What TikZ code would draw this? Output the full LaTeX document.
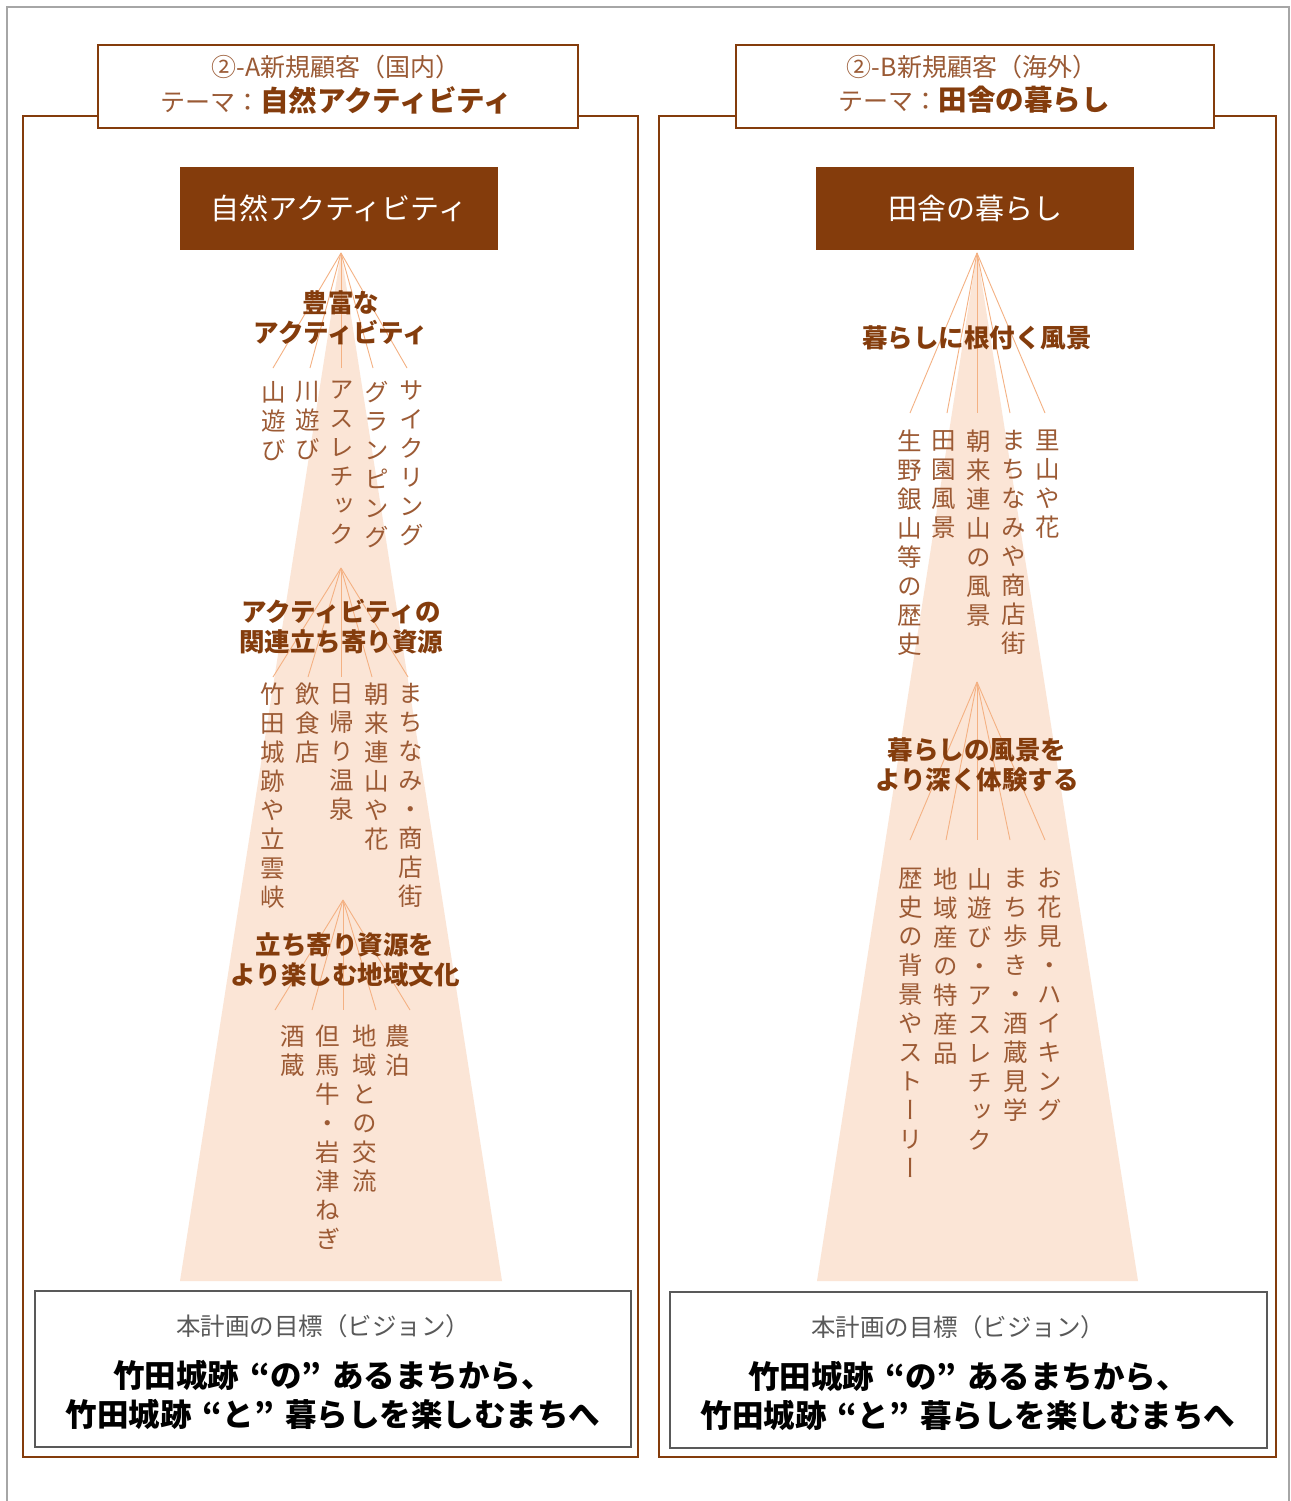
\documentclass[tikz,border=0pt]{standalone}
\usepackage{fontspec}
\setmainfont{Noto Sans CJK JP}
\newfontfamily\vjp[RawFeature=+vert]{Noto Sans CJK JP}
\definecolor{db}{HTML}{843C0C}
\definecolor{lb}{HTML}{9A5A35}
\definecolor{colc}{HTML}{9C5A34}
\definecolor{peach}{HTML}{FBE5D6}
\definecolor{fanc}{HTML}{F4B183}
\definecolor{outerg}{HTML}{A6A6A6}
\definecolor{boxg}{HTML}{595959}
\newcommand\qsp{\hspace{0.35em}}
\tikzset{
  frame/.style={draw=db, line width=2.4pt},
  hdrbox/.style={draw=db, fill=white, line width=2.4pt, minimum width=480pt, minimum height=83pt, inner sep=0pt},
  hdrtxt/.style={inner sep=0pt, text=lb, font=\fontsize{25}{30}\selectfont},
  themebox/.style={fill=db, minimum width=318pt, minimum height=83pt, inner sep=0pt, text=white, font=\fontsize{29}{34}\selectfont},
  fanline/.style={draw=fanc, line width=0.9pt},
  lbl/.style={inner sep=0pt, text=db, font=\bfseries\fontsize{25.5}{30}\selectfont, align=center},
  col/.style={inner sep=0pt, anchor=north, align=center, text=colc, font=\vjp\fontsize{24.5}{29}\selectfont},
  goalbox/.style={draw=boxg, line width=1.3pt, fill=white},
  goaltitle/.style={inner sep=0pt, text=boxg, font=\fontsize{24.5}{29}\selectfont},
  goaltxt/.style={inner sep=0pt, text=black, align=center, font=\bfseries\fontsize{31.5}{38.5}\selectfont},
}
\begin{document}
\begin{tikzpicture}[x=1pt,y=-1pt]
\useasboundingbox (0,0) rectangle (1290,1501);
\fill[white] (0,0) rectangle (1290,1501);
\draw[outerg, line width=1.3pt] (7,1501) -- (7,7) -- (1289,7) -- (1289,1501);

% ================= LEFT PANEL =================
\draw[frame] (23,116) rectangle (638,1457);
\node[hdrbox] (hA) at (338,86.5) {};
\node[hdrtxt] (hA1) at (336,67) {②-A新規顧客（国内）};
\node[hdrtxt] (hA2) at (336,100) {テーマ：{\color{db}\bfseries\fontsize{28.5}{30}\selectfont 自然アクティビティ}};
\node[themebox] (tA) at (339,208.5) {自然アクティビティ};

\fill[peach] (180,1281) -- (341,252) -- (502,1281) -- cycle;

% group A1
\coordinate (a1) at (341,253);
\foreach \i/\x in {1/273,2/310,3/341,4/373,5/407}{\coordinate (a1e\i) at (\x,368);}
\foreach \i in {1,...,5}{\draw[fanline] (a1) -- (a1e\i);}
\node[lbl] (la1) at (341,318) {豊富な\\アクティビティ};
\node[col] (ca11) at (274,381) {山\\遊\\び};
\node[col] (ca12) at (308,381) {川\\遊\\び};
\node[col] (ca13) at (342,381) {ア\\ス\\レ\\チ\\ッ\\ク};
\node[col] (ca14) at (377,381) {グ\\ラ\\ン\\ピ\\ン\\グ};
\node[col] (ca15) at (412,381) {サ\\イ\\ク\\リ\\ン\\グ};

% group A2
\coordinate (a2) at (341,568);
\foreach \i/\x in {1/273,2/308,3/341,4/372,5/408}{\coordinate (a2e\i) at (\x,677);}
\foreach \i in {1,...,5}{\draw[fanline] (a2) -- (a2e\i);}
\node[lbl] (la2) at (341,627) {アクティビティの\\関連立ち寄り資源};
\node[col] (ca21) at (273,683) {竹\\田\\城\\跡\\や\\立\\雲\\峡};
\node[col] (ca22) at (308,683) {飲\\食\\店};
\node[col] (ca23) at (342,683) {日\\帰\\り\\温\\泉};
\node[col] (ca24) at (377,683) {朝\\来\\連\\山\\や\\花};
\node[col] (ca25) at (411,683) {ま\\ち\\な\\み\\・\\商\\店\\街};

% group A3
\coordinate (a3) at (343,900);
\foreach \i/\x in {1/275,2/312,3/343,4/376,5/410}{\coordinate (a3e\i) at (\x,1010);}
\foreach \i in {1,...,5}{\draw[fanline] (a3) -- (a3e\i);}
\node[lbl] (la3) at (345,960) {立ち寄り資源を\\より楽しむ地域文化};
\node[col] (ca31) at (293,1025) {酒\\蔵};
\node[col] (ca32) at (328,1025) {但\\馬\\牛\\・\\岩\\津\\ね\\ぎ};
\node[col] (ca33) at (365,1025) {地\\域\\と\\の\\交\\流};
\node[col] (ca34) at (398,1025) {農\\泊};

% goal box
\draw[goalbox] (35,1291) rectangle (631,1447);
\node[goaltitle] (gA1) at (323,1326) {本計画の目標（ビジョン）};
\node[goaltxt] (gA2) at (333,1395) {竹田城跡\qsp“の”\qsp あるまちから、\\竹田城跡\qsp“と”\qsp 暮らしを楽しむまちへ};

% ================= RIGHT PANEL =================
\draw[frame] (659,116) rectangle (1276,1457);
\node[hdrbox, minimum width=478pt] (hB) at (975,86.5) {};
\node[hdrtxt] (hB1) at (972,67) {②-B新規顧客（海外）};
\node[hdrtxt] (hB2) at (974,100) {テーマ：{\color{db}\bfseries\fontsize{28.5}{30}\selectfont 田舎の暮らし}};
\node[themebox] (tB) at (975,208.5) {田舎の暮らし};

\fill[peach] (817,1281) -- (977,252) -- (1138,1281) -- cycle;

% group B1
\coordinate (b1) at (977,253);
\foreach \i/\x in {1/910,2/947,3/977,4/1010,5/1045}{\coordinate (b1e\i) at (\x,413);}
\foreach \i in {1,...,5}{\draw[fanline] (b1) -- (b1e\i);}
\node[lbl] (lb1) at (977,338) {暮らしに根付く風景};
\node[col] (cb11) at (910,430) {生\\野\\銀\\山\\等\\の\\歴\\史};
\node[col] (cb12) at (944,430) {田\\園\\風\\景};
\node[col] (cb13) at (979,430) {朝\\来\\連\\山\\の\\風\\景};
\node[col] (cb14) at (1014,430) {ま\\ち\\な\\み\\や\\商\\店\\街};
\node[col] (cb15) at (1048,430) {里\\山\\や\\花};

% group B2
\coordinate (b2) at (977,682);
\foreach \i/\x in {1/910,2/946,3/977,4/1010,5/1045}{\coordinate (b2e\i) at (\x,840);}
\foreach \i in {1,...,5}{\draw[fanline] (b2) -- (b2e\i);}
\node[lbl] (lb2) at (977,765) {暮らしの風景を\\より深く体験する};
\node[col] (cb21) at (911,868) {歴\\史\\の\\背\\景\\や\\ス\\ト\\ー\\リ\\ー};
\node[col] (cb22) at (946,868) {地\\域\\産\\の\\特\\産\\品};
\node[col] (cb23) at (980,868) {山\\遊\\び\\・\\ア\\ス\\レ\\チ\\ッ\\ク};
\node[col] (cb24) at (1016,868) {ま\\ち\\歩\\き\\・\\酒\\蔵\\見\\学};
\node[col] (cb25) at (1050,868) {お\\花\\見\\・\\ハ\\イ\\キ\\ン\\グ};

% goal box
\draw[goalbox] (670,1292) rectangle (1267,1448);
\node[goaltitle] (gB1) at (958,1327) {本計画の目標（ビジョン）};
\node[goaltxt] (gB2) at (968,1396) {竹田城跡\qsp“の”\qsp あるまちから、\\竹田城跡\qsp“と”\qsp 暮らしを楽しむまちへ};
\end{tikzpicture}
\end{document}
